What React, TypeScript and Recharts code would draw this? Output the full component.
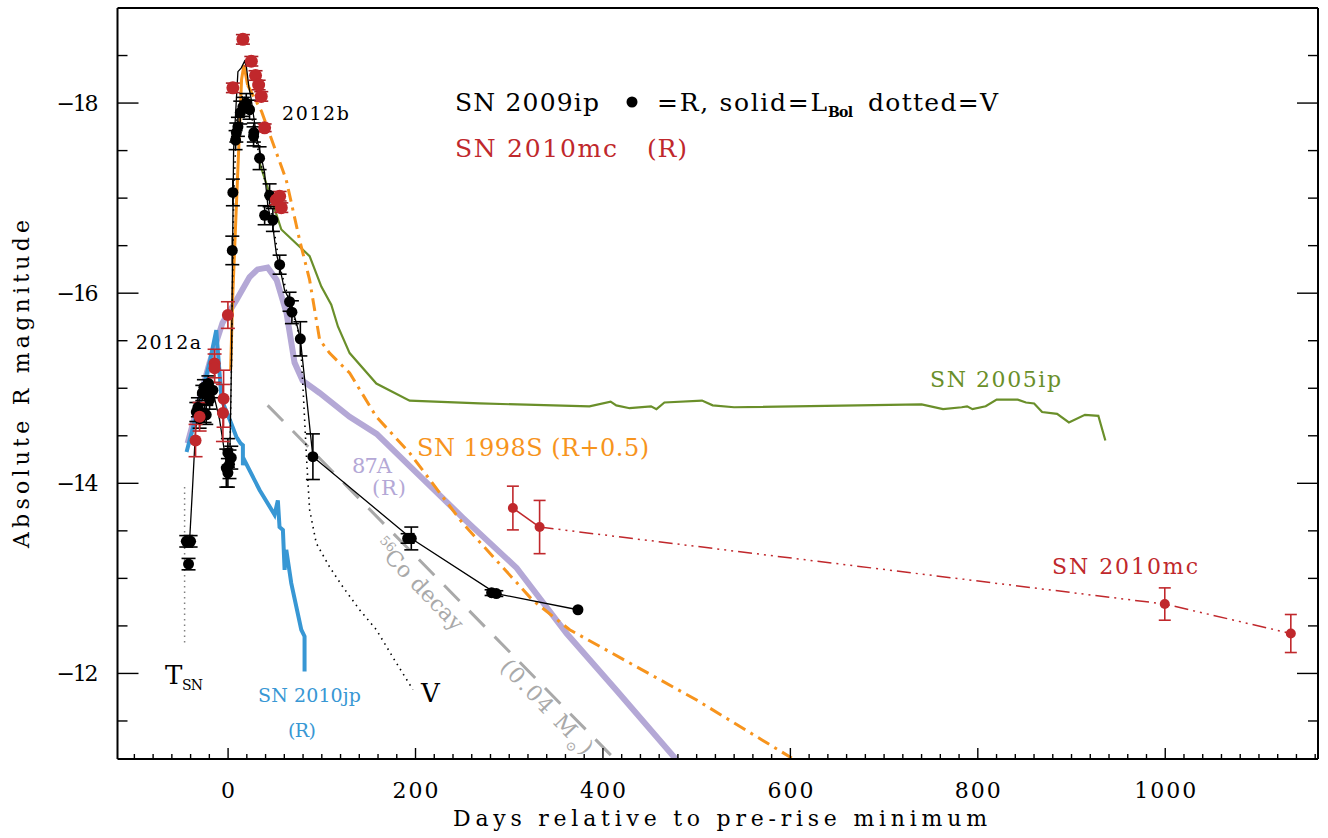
import React from 'react';
import { ComposedChart, Line, Scatter, XAxis, YAxis, ErrorBar } from 'recharts';

const W = 1328;
const H = 838;
const FONT = '"DejaVu Serif", "Liberation Serif", serif';

const C_BLACK = '#000000';
const C_RED = '#c0282c';
const C_ORANGE = '#f7941d';
const C_GREEN = '#6a8f2a';
const C_PURPLE = '#b4a8d6';
const C_BLUE = '#3897d4';
const C_GRAY = '#a9a9a9';

// ---- axes ----
const X_DOMAIN = [-118, 1163];
const Y_DOMAIN = [-19, -11.1];
const xMajorTicks = [0, 200, 400, 600, 800, 1000];
const xTickLabels = ['0', '200', '400', '600', '800', '1000'];
const yMajorTicks = [-18, -16, -14, -12];
const yTickLabels = ['\u221218', '\u221216', '\u221214', '\u221212'];
const xMinorTicks: number[] = [];
for (let v = -100; v <= 1160; v += 20) xMinorTicks.push(v);
const yMinorTicks: number[] = [];
for (let v = -18.5; v <= -11.5; v += 0.5) yMinorTicks.push(v);

// ---- SN 2009ip R photometry (black dots) ----
const sn09ipR = [
  { d: -44.6, m: -13.39, e: 0.06 }, { d: -40.0, m: -13.39, e: 0.06 }, { d: -42.2, m: -13.15, e: 0.06 },
  { d: -33.9, m: -14.75, e: 0.1 }, { d: -32.2, m: -14.8, e: 0.1 }, { d: -30.4, m: -14.68, e: 0.1 },
  { d: -27.5, m: -14.95, e: 0.08 }, { d: -25.8, m: -15.01, e: 0.08 }, { d: -25.1, m: -14.74, e: 0.1 },
  { d: -23.3, m: -14.93, e: 0.1 }, { d: -23.3, m: -14.72, e: 0.1 }, { d: -21.0, m: -15.05, e: 0.08 },
  { d: -19.7, m: -14.88, e: 0.1 }, { d: -16.2, m: -14.98, e: 0.08 },
  { d: -0.2, m: -14.32, e: 0.15 }, { d: 3.4, m: -14.27, e: 0.12 }, { d: -1.9, m: -14.16, e: 0.2 },
  { d: -0.2, m: -14.11, e: 0.15 }, { d: 1.5, m: -14.2, e: 0.15 },
  { d: 4.5, m: -16.45, e: 0.15 }, { d: 5.1, m: -17.06, e: 0.14 },
  { d: 8.0, m: -17.61, e: 0.1 }, { d: 8.8, m: -17.69, e: 0.1 }, { d: 10.5, m: -17.75, e: 0.1 },
  { d: 13.0, m: -17.9, e: 0.12 }, { d: 15.8, m: -17.96, e: 0.1 }, { d: 19.4, m: -18.0, e: 0.1 },
  { d: 22.9, m: -17.93, e: 0.1 }, { d: 27.5, m: -17.69, e: 0.1 }, { d: 27.2, m: -17.65, e: 0.1 },
  { d: 33.6, m: -17.42, e: 0.12 }, { d: 44.3, m: -17.03, e: 0.12 }, { d: 39.0, m: -16.82, e: 0.1 },
  { d: 47.8, m: -16.77, e: 0.12 }, { d: 55.0, m: -16.3, e: 0.1 }, { d: 65.6, m: -15.91, e: 0.1 },
  { d: 68.1, m: -15.8, e: 0.12 }, { d: 77.1, m: -15.52, e: 0.18 }, { d: 90.5, m: -14.28, e: 0.24 },
  { d: 191.6, m: -13.42, e: 0.05 }, { d: 195.5, m: -13.42, e: 0.12 },
  { d: 281.2, m: -12.85, e: 0.03 }, { d: 286.2, m: -12.84, e: 0.03 }, { d: 373.3, m: -12.67, e: 0 },
];

// ---- SN 2009ip bolometric (thin solid) ----
const sn09ipLbol = [
  { d: -41.1, m: -13.39 }, { d: -37.9, m: -13.96 }, { d: -34.7, m: -14.56 }, { d: -30.4, m: -14.88 },
  { d: -24.0, m: -15.03 }, { d: -16.5, m: -14.98 }, { d: -9.1, m: -14.67 }, { d: -1.6, m: -14.19 },
  { d: 1.6, m: -14.14 }, { d: 3.7, m: -15.3 }, { d: 4.8, m: -16.46 }, { d: 5.9, m: -17.51 },
  { d: 8.8, m: -18.03 }, { d: 10.5, m: -18.33 }, { d: 14.1, m: -18.37 }, { d: 17.6, m: -18.44 },
  { d: 19.4, m: -18.39 }, { d: 22.2, m: -18.17 }, { d: 24.8, m: -18.03 }, { d: 28.3, m: -17.79 },
  { d: 31.8, m: -17.58 }, { d: 35.4, m: -17.43 }, { d: 38.9, m: -17.27 }, { d: 42.5, m: -16.91 },
  { d: 47.8, m: -16.7 }, { d: 51.4, m: -16.42 }, { d: 55.0, m: -16.28 }, { d: 60.3, m: -16.03 },
  { d: 65.6, m: -15.93 }, { d: 72.8, m: -15.69 }, { d: 77.1, m: -15.52 }, { d: 90.5, m: -14.28 },
  { d: 195.5, m: -13.42 }, { d: 286.2, m: -12.84 }, { d: 373.3, m: -12.67 },
];

// ---- SN 2009ip V (dotted) ----
const sn09ipV = [
  { d: 1.6, m: -14.09 }, { d: 3.7, m: -15.3 }, { d: 5.9, m: -16.98 }, { d: 9.1, m: -17.82 },
  { d: 15.5, m: -18.09 }, { d: 22.9, m: -17.98 }, { d: 33.6, m: -17.42 }, { d: 44.3, m: -16.98 },
  { d: 55.0, m: -16.28 }, { d: 65.6, m: -15.91 }, { d: 77.1, m: -15.52 }, { d: 80.6, m: -14.88 },
  { d: 83.8, m: -14.25 }, { d: 87.0, m: -13.72 }, { d: 94.1, m: -13.37 }, { d: 108.3, m: -13.12 },
  { d: 122.5, m: -12.91 }, { d: 140.3, m: -12.67 }, { d: 158.2, m: -12.46 }, { d: 177.7, m: -12.14 },
  { d: 197.2, m: -11.83 },
];

// ---- T_SN marker ----
const tsnLine = [{ d: -46.4, m: -13.96 }, { d: -46.4, m: -12.3 }];

// ---- SN 1998S (R+0.5) ----
const sn98sSolid = [
  { d: 2.7, m: -15.19 }, { d: 4.8, m: -15.93 }, { d: 9.1, m: -16.98 }, { d: 14.4, m: -18.25 },
  { d: 16.9, m: -18.4 }, { d: 20.8, m: -18.19 },
];
const sn98sDash = [
  { d: 20.8, m: -18.19 }, { d: 35.8, m: -17.91 }, { d: 47.8, m: -17.58 }, { d: 62.1, m: -17.19 },
  { d: 76.3, m: -16.56 }, { d: 87.0, m: -16.14 }, { d: 97.7, m: -15.51 }, { d: 108.3, m: -15.37 },
  { d: 129.7, m: -15.16 }, { d: 158.2, m: -14.7 }, { d: 193.7, m: -14.32 }, { d: 250.3, m: -13.58 },
  { d: 325.0, m: -12.77 }, { d: 364.5, m: -12.46 }, { d: 500.0, m: -11.72 }, { d: 601.4, m: -11.11 },
];

// ---- SN 1987A (R) ----
const sn87a = [
  { d: -43.2, m: -14.42 }, { d: -33.6, m: -14.77 }, { d: -19.7, m: -15.27 }, { d: -5.9, m: -15.69 },
  { d: 9.1, m: -15.93 }, { d: 22.9, m: -16.17 }, { d: 31.5, m: -16.25 }, { d: 42.2, m: -16.27 },
  { d: 51.8, m: -16.14 }, { d: 62.4, m: -15.79 }, { d: 70.9, m: -15.27 }, { d: 79.5, m: -15.08 },
  { d: 97.7, m: -14.95 }, { d: 129.7, m: -14.7 }, { d: 158.5, m: -14.52 }, { d: 201.2, m: -14.11 },
  { d: 250.3, m: -13.64 }, { d: 307.9, m: -13.11 }, { d: 361.3, m: -12.42 }, { d: 414.6, m: -11.82 },
  { d: 478.6, m: -11.09 },
];

// ---- SN 2005ip ----
const sn05ip = [
  { d: 33.6, m: -17.37 }, { d: 56.8, m: -16.67 }, { d: 87.0, m: -16.39 }, { d: 99.5, m: -16.07 },
  { d: 110.1, m: -15.88 }, { d: 117.2, m: -15.65 }, { d: 129.7, m: -15.37 }, { d: 158.2, m: -15.05 },
  { d: 193.7, m: -14.87 }, { d: 268.4, m: -14.84 }, { d: 385.6, m: -14.81 }, { d: 408.2, m: -14.86 },
  { d: 414.2, m: -14.82 }, { d: 428.5, m: -14.79 }, { d: 451.3, m: -14.81 }, { d: 457.1, m: -14.78 },
  { d: 465.6, m: -14.85 }, { d: 505.7, m: -14.87 }, { d: 517.1, m: -14.82 }, { d: 539.9, m: -14.8 },
  { d: 740.0, m: -14.83 }, { d: 762.9, m: -14.78 }, { d: 782.8, m: -14.8 }, { d: 788.6, m: -14.81 },
  { d: 794.3, m: -14.78 }, { d: 808.4, m: -14.81 }, { d: 820.1, m: -14.88 }, { d: 842.6, m: -14.88 },
  { d: 851.4, m: -14.85 }, { d: 860.1, m: -14.84 }, { d: 868.6, m: -14.75 }, { d: 884.6, m: -14.73 },
  { d: 897.2, m: -14.64 }, { d: 914.3, m: -14.72 }, { d: 928.6, m: -14.71 }, { d: 936.1, m: -14.45 },
];

// ---- SN 2010jp (R) ----
const sn10jp = [
  { d: -44.3, m: -14.33 }, { d: -30.4, m: -14.85 }, { d: -19.7, m: -15.27 }, { d: -12.6, m: -15.61 },
  { d: -6.9, m: -14.88 }, { d: 3.4, m: -14.63 }, { d: 8.8, m: -14.49 }, { d: 13.3, m: -14.42 },
  { d: 15.8, m: -14.4 }, { d: 15.8, m: -14.19 }, { d: 16.5, m: -14.26 }, { d: 33.6, m: -13.93 },
  { d: 49.6, m: -13.67 }, { d: 53.1, m: -13.82 }, { d: 54.9, m: -13.54 }, { d: 58.5, m: -13.51 },
  { d: 60.3, m: -13.09 }, { d: 62.1, m: -13.3 }, { d: 65.6, m: -13.07 }, { d: 67.4, m: -12.95 },
  { d: 78.1, m: -12.46 }, { d: 81.6, m: -12.39 }, { d: 81.6, m: -12.02 },
];

// ---- 56Co decay (0.04 Msun) ----
const coDecay = [{ d: 42.2, m: -14.82 }, { d: 412.5, m: -11.1 }];

// ---- SN 2010mc (R) ----
const sn10mcEarly = [
  { d: -34.7, m: -14.45, e: 0.17 }, { d: -30.4, m: -14.7, e: 0.15 }, { d: -14.4, m: -15.26, e: 0.15 },
  { d: -14.4, m: -15.21, e: 0.15 }, { d: -4.8, m: -14.89, e: 0.3 }, { d: -5.5, m: -14.74, e: 0.3 },
  { d: -0.2, m: -15.77, e: 0.14 },
];
const sn10mcPeak = [
  { d: 5.1, m: -18.16, e: 0.05 }, { d: 15.8, m: -18.67, e: 0.05 }, { d: 24.8, m: -18.44, e: 0.05 },
  { d: 29.3, m: -18.29, e: 0.05 }, { d: 32.6, m: -18.19, e: 0.05 }, { d: 35.4, m: -18.07, e: 0.05 },
  { d: 39.0, m: -17.74, e: 0.04 }, { d: 51.4, m: -16.98, e: 0.05 }, { d: 55.0, m: -17.02, e: 0.05 },
  { d: 56.8, m: -16.9, e: 0.05 },
];
const sn10mcLate = [
  { d: 303.9, m: -13.74, e: 0.23 }, { d: 332.4, m: -13.54, e: 0.28 },
  { d: 999.5, m: -12.73, e: 0.17 }, { d: 1134.0, m: -12.42, e: 0.2 },
];

const lineCommon = {
  isAnimationActive: false,
  dot: false,
  activeDot: false,
  xAxisId: 'x',
  yAxisId: 'y',
  type: 'linear' as const,
  dataKey: 'm',
  legendType: 'none' as const,
};

const isMajorX = (v: number) => xMajorTicks.indexOf(v) >= 0;
const isMajorY = (v: number) => yMajorTicks.some((t) => Math.abs(t - v) < 1e-6);

const BottomTick = (p: any) => {
  const { x, y, payload } = p;
  const v = payload.value;
  const major = isMajorX(v);
  const idx = xMajorTicks.indexOf(v);
  const lbl = idx >= 0 ? xTickLabels[idx] : '';
  return (
    <g>
      <line x1={x} x2={x} y1={y} y2={y - (major ? 11 : 5)} stroke={C_BLACK} strokeWidth={1.4} />
      {major && (
        <text x={x} y={y + 39} textAnchor="middle" fontSize={22} fontFamily={FONT} fill={C_BLACK}
          {...(lbl.length > 1 ? { textLength: lbl.length === 3 ? 46 : 62, lengthAdjust: 'spacing' } : {})}>
          {lbl}
        </text>
      )}
    </g>
  );
};
const TopTick = (p: any) => {
  const { x, y, payload } = p;
  const major = isMajorX(payload.value);
  return <line x1={x} x2={x} y1={y} y2={y + (major ? 11 : 5)} stroke={C_BLACK} strokeWidth={1.4} />;
};
const LeftTick = (p: any) => {
  const { x, y, payload } = p;
  const v = payload.value;
  const major = isMajorY(v);
  const idx = yMajorTicks.findIndex((t) => Math.abs(t - v) < 1e-6);
  return (
    <g>
      <line x1={x} x2={x + (major ? 21 : 10)} y1={y} y2={y} stroke={C_BLACK} strokeWidth={1.4} />
      {major && (
        <text x={x - 19} y={y + 8} textAnchor="end" fontSize={22} fontFamily={FONT} fill={C_BLACK}
          textLength={42} lengthAdjust="spacing">
          {yTickLabels[idx]}
        </text>
      )}
    </g>
  );
};
const RightTick = (p: any) => {
  const { x, y, payload } = p;
  const major = isMajorY(payload.value);
  return <line x1={x} x2={x - (major ? 21 : 10)} y1={y} y2={y} stroke={C_BLACK} strokeWidth={1.4} />;
};

const dotShape = (r: number, fill: string) => (p: any) => {
  if (p == null || p.cx == null || p.cy == null) return <g />;
  return <circle cx={p.cx} cy={p.cy} r={r} fill={fill} />;
};

const xTicksAll = xMinorTicks;
const yTicksAll = yMinorTicks;
const axisLineStyle = { stroke: C_BLACK, strokeWidth: 2 };

const Annotations = () => (
  <svg width={W} height={H} style={{ position: 'absolute', left: 0, top: 0, pointerEvents: 'none' }} fontFamily={FONT}>
    {/* legend line 1 */}
    <text x={455} y={111} fontSize={25} fill={C_BLACK} textLength={144} lengthAdjust="spacing">SN 2009ip</text>
    <circle cx={632} cy={102} r={5.5} fill={C_BLACK} />
    <text x={657} y={111} fontSize={25} fill={C_BLACK} textLength={170} lengthAdjust="spacing">=R, solid=L</text>
    <text x={828} y={117} fontSize={14} fontWeight="bold" fill={C_BLACK} textLength={25} lengthAdjust="spacing">Bol</text>
    <text x={868} y={111} fontSize={25} fill={C_BLACK} textLength={130} lengthAdjust="spacing">dotted=V</text>
    {/* legend line 2 */}
    <text x={455} y={157} fontSize={25} fill={C_RED} textLength={162} lengthAdjust="spacing">SN 2010mc</text>
    <text x={647} y={157} fontSize={25} fill={C_RED} textLength={40} lengthAdjust="spacing">(R)</text>

    <text x={282} y={120} fontSize={19} fill={C_BLACK} textLength={67} lengthAdjust="spacing">2012b</text>
    <text x={136} y={349} fontSize={19} fill={C_BLACK} textLength={65} lengthAdjust="spacing">2012a</text>

    <text x={930} y={387} fontSize={22} fill={C_GREEN} textLength={131} lengthAdjust="spacing">SN 2005ip</text>
    <text x={417} y={456} fontSize={24} fill={C_ORANGE} textLength={232} lengthAdjust="spacing">SN 1998S (R+0.5)</text>
    <text x={352} y={473} fontSize={21} fill={C_PURPLE} textLength={40} lengthAdjust="spacing">87A</text>
    <text x={372} y={495} fontSize={21} fill={C_PURPLE} textLength={34} lengthAdjust="spacing">(R)</text>

    <g transform="translate(383,558) rotate(46)">
      <text fontSize={22} fill={C_GRAY}>
        <tspan x={-15} dy={-9} fontSize={13}>56</tspan>
        <tspan x={0} dy={9} textLength={103} lengthAdjust="spacing">Co decay</tspan>
      </text>
    </g>
    <g transform="translate(499,668) rotate(46)">
      <text fontSize={22} fill={C_GRAY} letterSpacing={2}>
        <tspan>(0.04 M</tspan>
        <tspan fontSize={13} dy={7}>{'\u2299'}</tspan>
        <tspan dy={-7}>)</tspan>
      </text>
    </g>

    <text x={1052} y={574} fontSize={22} fill={C_RED} textLength={146} lengthAdjust="spacing">SN 2010mc</text>

    <text x={165} y={684} fontSize={26} fill={C_BLACK}>T</text>
    <text x={182} y={690} fontSize={14} fill={C_BLACK} textLength={21} lengthAdjust="spacing">SN</text>

    <text x={258} y={702} fontSize={19} fill={C_BLUE} textLength={103} lengthAdjust="spacing">SN 2010jp</text>
    <text x={288} y={737} fontSize={19} fill={C_BLUE} textLength={28} lengthAdjust="spacing">(R)</text>
    <text x={421} y={702} fontSize={26} fill={C_BLACK}>V</text>

    {/* axis titles */}
    <text x={720} y={826} fontSize={22} fill={C_BLACK} textAnchor="middle" textLength={534} lengthAdjust="spacing">
      Days relative to pre-rise minimum
    </text>
    <text transform="translate(29,384) rotate(-90)" fontSize={22} fill={C_BLACK} textAnchor="middle" textLength={328} lengthAdjust="spacing">
      Absolute R magnitude
    </text>
  </svg>
);

export default function App() {
  return (
    <div style={{ position: 'absolute', left: 0, top: 0, width: W, height: H, background: '#ffffff' }}>
      <ComposedChart width={W} height={H} margin={{ top: 7, right: 9, bottom: 78, left: 116.5 }}>
        <XAxis xAxisId="x" dataKey="d" type="number" orientation="bottom" domain={X_DOMAIN} allowDataOverflow
          ticks={xTicksAll} interval={0} height={1} tickSize={0} tickMargin={0} tickLine={false}
          tick={BottomTick} axisLine={axisLineStyle} />
        <XAxis xAxisId="top" type="number" orientation="top" domain={X_DOMAIN} allowDataOverflow
          ticks={xTicksAll} interval={0} height={1} tickSize={0} tickMargin={0} tickLine={false}
          tick={TopTick} axisLine={axisLineStyle} />
        <YAxis yAxisId="y" dataKey="m" type="number" orientation="left" domain={Y_DOMAIN} reversed allowDataOverflow
          ticks={yTicksAll} interval={0} width={1} tickSize={0} tickMargin={0} tickLine={false}
          tick={LeftTick} axisLine={axisLineStyle} />
        <YAxis yAxisId="right" type="number" orientation="right" domain={Y_DOMAIN} reversed allowDataOverflow
          ticks={yTicksAll} interval={0} width={1} tickSize={0} tickMargin={0} tickLine={false}
          tick={RightTick} axisLine={axisLineStyle} />

        <Line {...lineCommon} data={sn87a} stroke={C_PURPLE} strokeWidth={6} />
        <Line {...lineCommon} data={coDecay} stroke={C_GRAY} strokeWidth={3} strokeDasharray="22 14" />
        <Line {...lineCommon} data={sn05ip} stroke={C_GREEN} strokeWidth={2.2} />
        <Line {...lineCommon} data={sn98sSolid} stroke={C_ORANGE} strokeWidth={3} />
        <Line {...lineCommon} data={sn98sDash} stroke={C_ORANGE} strokeWidth={3} strokeDasharray="13 6 3 6" />
        <Line {...lineCommon} data={sn10jp} stroke={C_BLUE} strokeWidth={4} />
        <Line {...lineCommon} data={tsnLine} stroke="#808080" strokeWidth={1.5} strokeDasharray="1.5 4" />
        <Line {...lineCommon} data={sn09ipV} stroke={C_BLACK} strokeWidth={1.6} strokeDasharray="1.5 4.5" />
        <Line {...lineCommon} data={sn09ipLbol} stroke={C_BLACK} strokeWidth={1.3} />

        <Scatter data={sn09ipR} dataKey="m" xAxisId="x" yAxisId="y" isAnimationActive={false}
          shape={dotShape(5.5, C_BLACK)} legendType="none">
          <ErrorBar dataKey="e" direction="y" width={7} stroke={C_BLACK} strokeWidth={1.6} />
        </Scatter>

        <Line {...lineCommon} data={sn10mcLate.slice(0, 2)} stroke={C_RED} strokeWidth={1.5} />
        <Line {...lineCommon} data={sn10mcLate.slice(1)} stroke={C_RED} strokeWidth={1.5} strokeDasharray="14 5 2 5 2 5 2 5" />

        <Scatter data={sn10mcEarly} dataKey="m" xAxisId="x" yAxisId="y" isAnimationActive={false}
          shape={dotShape(6, C_RED)} legendType="none">
          <ErrorBar dataKey="e" direction="y" width={7} stroke={C_RED} strokeWidth={1.6} />
        </Scatter>
        <Scatter data={sn10mcPeak} dataKey="m" xAxisId="x" yAxisId="y" isAnimationActive={false}
          shape={dotShape(6.5, C_RED)} legendType="none">
          <ErrorBar dataKey="e" direction="y" width={7} stroke="#a81f24" strokeWidth={1.6} />
        </Scatter>
        <Scatter data={sn10mcLate} dataKey="m" xAxisId="x" yAxisId="y" isAnimationActive={false}
          shape={dotShape(5, C_RED)} legendType="none">
          <ErrorBar dataKey="e" direction="y" width={6} stroke={C_RED} strokeWidth={1.6} />
        </Scatter>
      </ComposedChart>
      <Annotations />
    </div>
  );
}
